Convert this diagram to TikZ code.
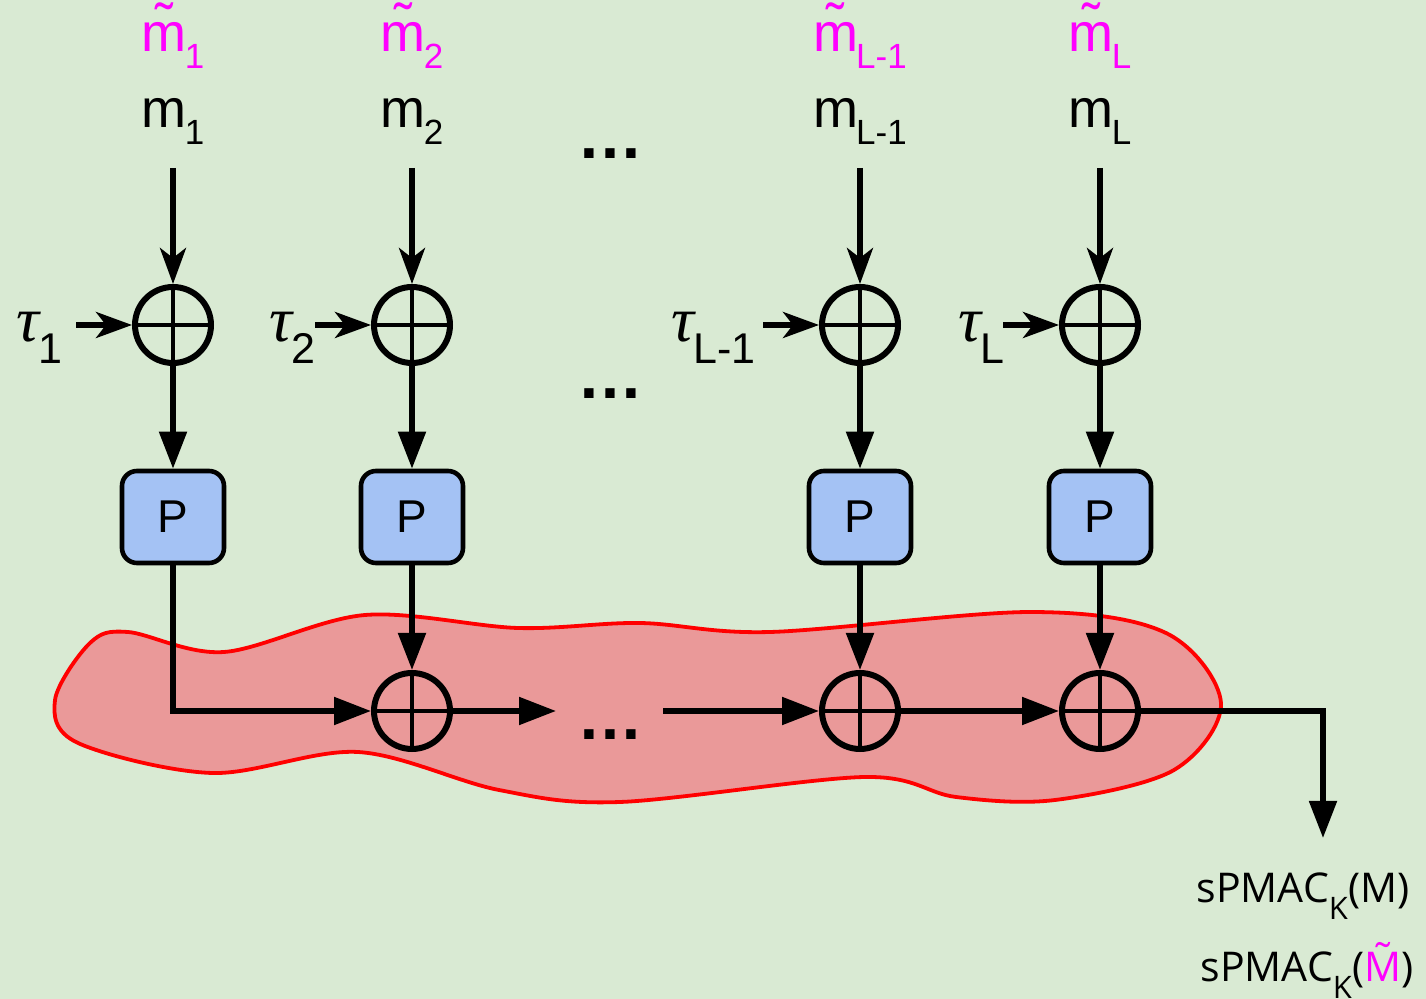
\documentclass[tikz,border=0pt]{standalone}
\usepackage{fontspec}
\setmainfont{Liberation Sans}
\newfontfamily\greekfont{Liberation Serif}
\newfontfamily\outfont{Open Sans}
\usetikzlibrary{arrows.meta}

\definecolor{bgcol}{HTML}{D9EAD3}
\definecolor{blobfill}{HTML}{EA9999}
\definecolor{boxfill}{HTML}{A4C2F4}
\definecolor{accent}{HTML}{FF00FF}

% subscript of the block labels
\newcommand\lblsub[1]{\kern-1pt\raisebox{-8.5pt}{\fontsize{17.5pt}{17.5pt}\selectfont #1}}
% m with a tilde on top
\newcommand\tildem{\ooalign{m\cr\hidewidth\raisebox{5pt}{˜}\hidewidth\cr}}
% tau with a sans-serif index
\newcommand\taulbl[1]{{\greekfont\itshape\fontsize{32pt}{32pt}\selectfont τ}\kern-0.5pt\raisebox{-11pt}{\fontsize{21.5pt}{21.5pt}\selectfont #1}}
% index K of the tag
\newcommand\outsub{\raisebox{-8.5pt}{\fontsize{15.5pt}{15.5pt}\selectfont K}}
% capital M with a tilde on top
\newcommand\tildeM{\ooalign{M\cr\hidewidth\raisebox{4.5pt}{˜}\hidewidth\cr}}

\begin{document}
\begin{tikzpicture}[x=0.5pt,y=-0.5pt,line width=2.6pt,
  xor/.style={circle,draw,line width=3pt,minimum size=38pt,inner sep=0pt,
    path picture={\draw[line width=2.3pt]
      (path picture bounding box.north) -- (path picture bounding box.south)
      (path picture bounding box.west) -- (path picture bounding box.east);}},
  pbox/.style={draw,fill=boxfill,rounded corners=7.5pt,line width=2.3pt,
    minimum width=51pt,minimum height=46pt,inner sep=0pt,
    font=\fontsize{23pt}{23pt}\selectfont},
  lbl/.style={inner sep=0pt,anchor=base,font=\fontsize{27pt}{27pt}\selectfont},
  hint/.style={lbl,text=accent},
  taulab/.style={inner sep=0pt,anchor=base west},
  dotrow/.style={inner sep=0pt,anchor=base,font=\fontsize{33pt}{33pt}\selectfont\bfseries},
  outlbl/.style={inner sep=0pt,anchor=base,font=\outfont\fontsize{20.5pt}{20.5pt}\selectfont},
  feed/.style={-{Stealth[length=18pt,width=13pt,inset=5pt]}},
  flow/.style={-{Triangle[length=18.5pt,width=13.5pt]}},
]
\fill[bgcol] (0,0) rectangle (1426,999);
\useasboundingbox (0,0) rectangle (1426,999);

% the red region around the final chain
\draw[fill=blobfill,draw=red,line width=1.9pt] plot[smooth cycle,tension=0.55] coordinates {
  (55,700) (90,643) (128,632) (224,652) (365,615) (518,628) (640,623)
  (770,632) (1031,612) (1166,633) (1221,703) (1174,770) (1055,800)
  (956,797) (865,777) (620,802) (499,790) (358,752) (212,773) (78,743)};

% message blocks
\node[hint] (h1) at (173,52) {\tildem\lblsub{1}};
\node[hint] (h2) at (412,52) {\tildem\lblsub{2}};
\node[hint] (h3) at (860,52) {\tildem\lblsub{L-1}};
\node[hint] (h4) at (1100,52) {\tildem\lblsub{L}};
\node[lbl] (m1) at (173,128) {m\lblsub{1}};
\node[lbl] (m2) at (412,128) {m\lblsub{2}};
\node[lbl] (m3) at (860,128) {m\lblsub{L-1}};
\node[lbl] (m4) at (1100,128) {m\lblsub{L}};

\node[dotrow] (d1) at (610.5,159) {…};
\node[dotrow] (d2) at (610.5,399) {…};
\node[dotrow] (d3) at (610.5,740) {…};

% tweak inputs
\node[taulab] (tau1) at (14,342) {\taulbl{1}};
\node[taulab] (tau2) at (267,342) {\taulbl{2}};
\node[taulab] (tau3) at (669,342) {\taulbl{L-1}};
\node[taulab] (tau4) at (956,342) {\taulbl{L}};

% first xor row, permutations, final xor chain
\node[xor] (t1) at (173,325) {};
\node[xor] (t2) at (412,325) {};
\node[xor] (t3) at (860,325) {};
\node[xor] (t4) at (1100,325) {};
\node[pbox] (p1) at (173,517) {P};
\node[pbox] (p2) at (412,517) {P};
\node[pbox] (p3) at (860,517) {P};
\node[pbox] (p4) at (1100,517) {P};
\node[xor] (b2) at (412,711) {};
\node[xor] (b3) at (860,711) {};
\node[xor] (b4) at (1100,711) {};

\coordinate (in1) at (173,168);
\coordinate (in2) at (412,168);
\coordinate (in3) at (860,168);
\coordinate (in4) at (1100,168);
\coordinate (ts1) at (76,325);
\coordinate (ts2) at (315,325);
\coordinate (ts3) at (763,325);
\coordinate (ts4) at (1003,325);
\coordinate (gapL) at (556,711);
\coordinate (gapR) at (663,711);
\coordinate (outc) at (1323,838);

\foreach \i in {1,2,3,4} {
  \draw[feed] (in\i) -- (t\i.north);
  \draw[feed] (ts\i) -- (t\i.west);
  \draw[flow] (t\i.south) -- (p\i.north);
}
\draw[flow] (p1.south) |- (b2.west);
\draw[flow] (p2.south) -- (b2.north);
\draw[flow] (p3.south) -- (b3.north);
\draw[flow] (p4.south) -- (b4.north);
\draw[flow] (b2.east) -- (gapL);
\draw[flow] (gapR) -- (b3.west);
\draw[flow] (b3.east) -- (b4.west);
\draw[flow] (b4.east) -| (outc);

% resulting tags
\node[outlbl] (o1) at (1303,903) {sPMAC\outsub(M)};
\node[outlbl] (o2) at (1307,982) {sPMAC\outsub(\textcolor{accent}{\tildeM})};
\end{tikzpicture}
\end{document}
